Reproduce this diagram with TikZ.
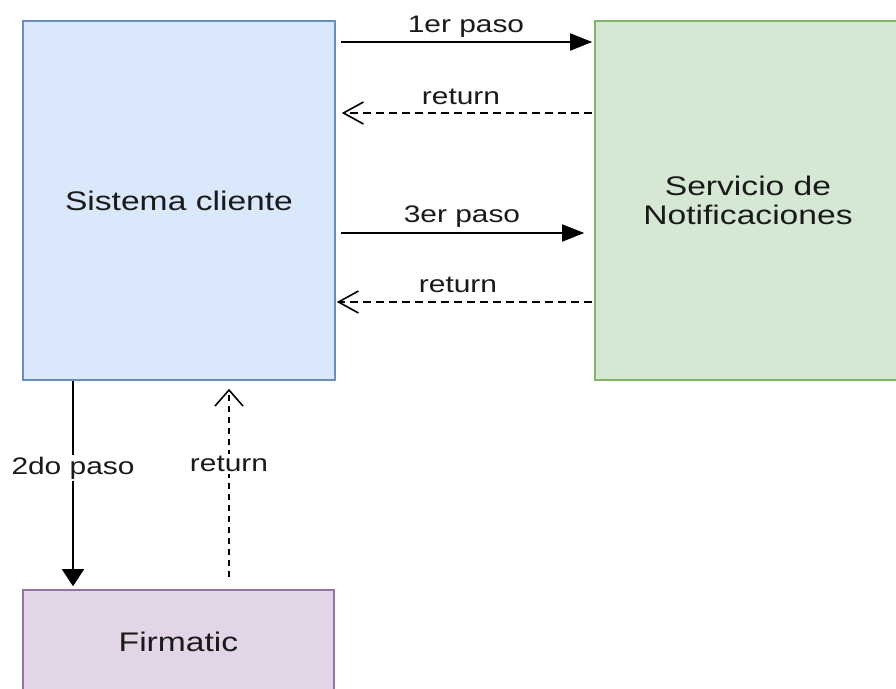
\documentclass[tikz,border=0pt]{standalone}
\usepackage{fontspec}
\setmainfont{Liberation Sans}[FakeStretch=1.25]
\usetikzlibrary{arrows.meta}
\definecolor{bluefill}{HTML}{DAE8FC}
\definecolor{bluedraw}{HTML}{6C8EBF}
\definecolor{greenfill}{HTML}{D5E8D4}
\definecolor{greendraw}{HTML}{82B366}
\definecolor{purplefill}{HTML}{E1D5E7}
\definecolor{purpledraw}{HTML}{9673A6}
\definecolor{txt}{HTML}{1A1A1A}
\begin{document}
\begin{tikzpicture}[x=1bp,y=-1bp,
  box/.style={draw, line width=1.6bp, align=center, inner sep=0pt,
    font=\fontsize{27}{29}\selectfont, text=txt},
  lbl/.style={font=\fontsize{24}{26}\selectfont, text=txt, inner sep=1bp, anchor=base},
  goh/.style={line width=1.8bp, -{Triangle[length=22bp,width=17bp]}},
  gov/.style={line width=2bp, -{Triangle[length=17bp,width=22bp]}},
  backh/.style={line width=1.6bp, dash pattern=on 8bp off 5bp,
    -{Straight Barb[length=20bp,width=22bp,line width=1.6bp]}},
  backv/.style={line width=1.8bp, dash pattern=on 6bp off 5bp,
    -{Straight Barb[length=16bp,width=28bp,line width=1.6bp]}}]
\useasboundingbox (0,0) rectangle (896,689);
\clip (0,0) rectangle (896,689);
\fill[white] (0,0) rectangle (896,689);

\node[box, fill=bluefill, draw=bluedraw, minimum width=312bp, minimum height=359bp]
  (cli) at (179,200.5) {Sistema cliente};
\node[box, fill=greenfill, draw=greendraw, minimum width=306bp, minimum height=359bp]
  (srv) at (748,200.5) {Servicio de\\Notificaciones};
\node[box, fill=purplefill, draw=purpledraw, minimum width=311bp, minimum height=104bp]
  (fir) at (178.5,642) {Firmatic};

% 1er paso
\draw[goh, shorten <=5bp, shorten >=2bp] (cli.east |- 0,42) -- (srv.west |- 0,42);
\node[lbl] (l1) at (466,33) {1er paso};
% return 1
\draw[backh, shorten <=2bp, shorten >=6bp] (srv.west |- 0,113) -- (cli.east |- 0,113);
\node[lbl] (l2) at (461,105) {return};
% 3er paso
\draw[goh, shorten <=5bp, shorten >=10bp] (cli.east |- 0,233) -- (srv.west |- 0,233);
\node[lbl] (l3) at (462,222) {3er paso};
% return 2
\draw[backh, shorten <=2bp, shorten >=1bp] (srv.west |- 0,302) -- (cli.east |- 0,302);
\node[lbl] (l4) at (458,292) {return};
% 2do paso
\draw[gov, shorten >=3bp] (cli.south -| 73,0) -- (fir.north -| 73,0)
  node[pos=0.42, lbl, fill=white, inner sep=2bp, anchor=center] (l5) {2do paso};
% return vertical
\draw[backv, shorten <=12bp, shorten >=8bp] (fir.north -| 229,0) -- (cli.south -| 229,0)
  node[pos=0.6, lbl, fill=white, inner sep=2bp, anchor=center] (l6) {return};
\end{tikzpicture}
\end{document}
